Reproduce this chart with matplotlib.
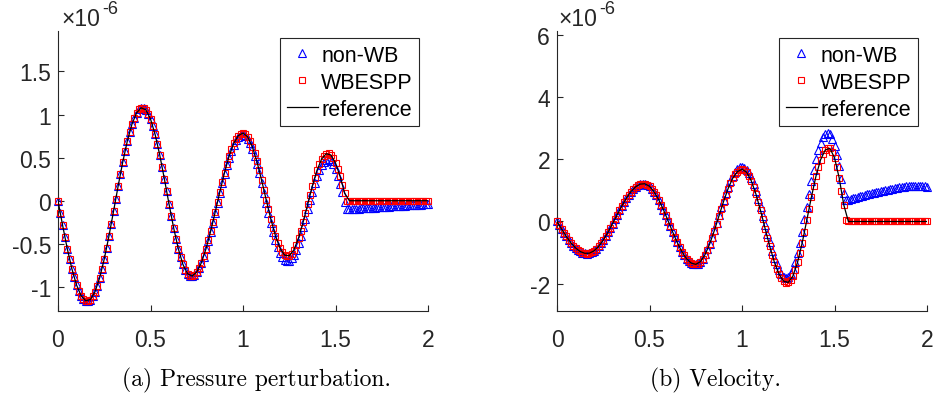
import numpy as np
import matplotlib
matplotlib.use("Agg")
import matplotlib.pyplot as plt

plt.rcParams["axes.unicode_minus"] = False

# Sample positions (numerical grid and reference grid)
x_markers = np.linspace(0.0, 2.0, 161)
x_reference = np.linspace(0.0, 2.0, 81)

# ---------------- Pressure perturbation (units of 1e-6) ----------------
pressure_wbespp = [
    0.0, -0.144, -0.287, -0.424, -0.556, -0.678, -0.790, -0.890, -0.977, -1.048, -1.103, -1.141, -1.161,
    -1.164, -1.147, -1.111, -1.057, -0.985, -0.896, -0.793, -0.677, -0.550, -0.414, -0.272, -0.125,
    0.023, 0.169, 0.312, 0.449, 0.578, 0.695, 0.800, 0.890, 0.964, 1.021, 1.059, 1.078,
    1.077, 1.055, 1.012, 0.949, 0.867, 0.769, 0.655, 0.530, 0.395, 0.253, 0.108, -0.037, -0.178,
    -0.314, -0.441, -0.555, -0.655, -0.738, -0.803, -0.847, -0.871,
    -0.874, -0.859, -0.828, -0.781, -0.720, -0.645, -0.558, -0.461, -0.356, -0.245, -0.129, -0.012,
    0.104, 0.218, 0.326, 0.427, 0.518, 0.599, 0.666, 0.719, 0.757, 0.779,
    0.785, 0.772, 0.742, 0.693, 0.628, 0.549, 0.457, 0.354, 0.244, 0.130, 0.014, -0.100, -0.210,
    -0.313, -0.405, -0.485, -0.551, -0.600, -0.632, -0.645,
    -0.639, -0.614, -0.571, -0.510, -0.435, -0.347, -0.250, -0.146, -0.039, 0.068, 0.171, 0.267,
    0.353, 0.426, 0.484, 0.524, 0.546,
    0.549, 0.531, 0.494, 0.439, 0.367, 0.282, 0.187, 0.084,
    0.0, 0.0, 0.0, 0.0, 0.0, 0.0, 0.0, 0.0, 0.0, 0.0, 0.0, 0.0,
    0.0, 0.0, 0.0, 0.0, 0.0, 0.0, 0.0, 0.0, 0.0, 0.0, 0.0, 0.0,
    0.0, 0.0, 0.0, 0.0, 0.0, 0.0, 0.0, 0.0, 0.0, 0.0, 0.0, 0.0,
]

pressure_nonwb = [
    0.0, -0.144, -0.287, -0.424, -0.556, -0.678, -0.790, -0.890, -0.977, -1.048, -1.103, -1.141, -1.161,
    -1.164, -1.147, -1.111, -1.057, -0.985, -0.896, -0.793, -0.677, -0.550, -0.414, -0.272, -0.125,
    0.023, 0.169, 0.312, 0.449, 0.578, 0.695, 0.800, 0.890, 0.964, 1.021, 1.059, 1.078,
    1.077, 1.055, 1.012, 0.949, 0.867, 0.769, 0.655, 0.530, 0.395, 0.253, 0.108, -0.037, -0.178,
    -0.314, -0.441, -0.555, -0.655, -0.738, -0.803, -0.847, -0.871,
    -0.874, -0.859, -0.829, -0.782, -0.722, -0.648, -0.562, -0.466, -0.362, -0.253, -0.138, -0.022,
    0.092, 0.205, 0.312, 0.411, 0.501, 0.581, 0.647, 0.700, 0.737, 0.759,
    0.765, 0.752, 0.720, 0.671, 0.604, 0.523, 0.429, 0.324, 0.211, 0.094, -0.024, -0.142, -0.254,
    -0.360, -0.454, -0.536, -0.603, -0.654, -0.686, -0.700,
    -0.694, -0.669, -0.626, -0.567, -0.493, -0.406, -0.310, -0.207, -0.101, 0.004, 0.106, 0.201,
    0.286, 0.358, 0.415, 0.455, 0.476,
    0.479, 0.460, 0.421, 0.363, 0.287, 0.198, 0.097, -0.011,
    -0.100, -0.098, -0.097, -0.095, -0.093, -0.091, -0.090, -0.088, -0.086, -0.085, -0.083, -0.081,
    -0.079, -0.078, -0.076, -0.074, -0.073, -0.071, -0.069, -0.067, -0.066, -0.064, -0.062, -0.061,
    -0.059, -0.057, -0.055, -0.054, -0.052, -0.050, -0.049, -0.047, -0.045, -0.043, -0.042, -0.040,
]

pressure_reference = [
    0.0, -0.287, -0.556, -0.790, -0.977, -1.103, -1.161, -1.147, -1.057, -0.896, -0.677, -0.414,
    -0.125, 0.169, 0.449, 0.695, 0.890, 1.021, 1.078, 1.055, 0.949, 0.769, 0.530, 0.253, -0.037,
    -0.314, -0.555, -0.738, -0.847, -0.874, -0.828, -0.720, -0.558, -0.356, -0.129, 0.104, 0.326,
    0.518, 0.666, 0.757, 0.785, 0.742, 0.628, 0.457, 0.244, 0.014, -0.210, -0.405, -0.551, -0.632,
    -0.639, -0.571, -0.435, -0.250, -0.039, 0.171, 0.353, 0.484, 0.546, 0.531, 0.439, 0.282, 0.084,
    0.0, 0.0, 0.0, 0.0, 0.0, 0.0, 0.0, 0.0, 0.0, 0.0, 0.0, 0.0, 0.0, 0.0, 0.0, 0.0, 0.0, 0.0,
]

# ---------------- Velocity (units of 1e-6) ----------------
velocity_wbespp = [
    0.0, -0.125, -0.247, -0.366, -0.480, -0.587, -0.685, -0.773, -0.849, -0.914, -0.964, -1.001,
    -1.023, -1.030,
    -1.020, -0.991, -0.945, -0.881, -0.801, -0.706, -0.599, -0.479, -0.350, -0.214, -0.072, 0.072,
    0.217, 0.359, 0.498, 0.629, 0.752, 0.864, 0.963, 1.048, 1.117, 1.168, 1.203, 1.219,
    1.215, 1.186, 1.132, 1.055, 0.956, 0.837, 0.699, 0.547, 0.382, 0.208, 0.029, -0.153, -0.333,
    -0.508, -0.675, -0.830, -0.971, -1.094, -1.197, -1.279, -1.337, -1.371,
    -1.379, -1.355, -1.294, -1.198, -1.069, -0.911, -0.728, -0.522, -0.301, -0.068, 0.169, 0.406,
    0.637, 0.857, 1.059, 1.239, 1.393, 1.516, 1.606, 1.661, 1.680,
    1.656, 1.585, 1.470, 1.311, 1.116, 0.888, 0.632, 0.356, 0.067, -0.227, -0.520, -0.802, -1.068,
    -1.309, -1.520, -1.696, -1.830, -1.921, -1.965,
    -1.960, -1.890, -1.757, -1.564, -1.318, -1.026, -0.697, -0.340, 0.033, 0.412, 0.784, 1.137,
    1.463, 1.750, 1.990, 2.176, 2.302, 2.363,
    2.355, 2.250, 2.052, 1.769, 1.412, 0.995, 0.538, 0.058,
    0.0, 0.0, 0.0, 0.0, 0.0, 0.0, 0.0, 0.0, 0.0, 0.0, 0.0, 0.0,
    0.0, 0.0, 0.0, 0.0, 0.0, 0.0, 0.0, 0.0, 0.0, 0.0, 0.0, 0.0,
    0.0, 0.0, 0.0, 0.0, 0.0, 0.0, 0.0, 0.0, 0.0, 0.0, 0.0,
]

velocity_nonwb = [
    0.0, -0.125, -0.247, -0.366, -0.480, -0.587, -0.685, -0.773, -0.849, -0.914, -0.964, -1.001,
    -1.023, -1.030,
    -1.020, -0.991, -0.945, -0.881, -0.801, -0.706, -0.599, -0.479, -0.350, -0.214, -0.072, 0.072,
    0.217, 0.359, 0.498, 0.629, 0.752, 0.864, 0.963, 1.048, 1.117, 1.168, 1.203, 1.219,
    1.215, 1.186, 1.132, 1.055, 0.956, 0.837, 0.699, 0.547, 0.382, 0.208, 0.029, -0.153, -0.333,
    -0.508, -0.675, -0.830, -0.971, -1.094, -1.197, -1.279, -1.337, -1.371,
    -1.379, -1.354, -1.292, -1.193, -1.061, -0.899, -0.711, -0.500, -0.273, -0.034, 0.210, 0.453,
    0.690, 0.915, 1.122, 1.307, 1.465, 1.591, 1.684, 1.741, 1.760,
    1.737, 1.667, 1.554, 1.398, 1.207, 0.983, 0.732, 0.461, 0.178, -0.111, -0.398, -0.675, -0.935,
    -1.172, -1.379, -1.551, -1.683, -1.772, -1.815,
    -1.797, -1.703, -1.539, -1.312, -1.028, -0.695, -0.325, 0.071, 0.482, 0.893, 1.293, 1.668,
    2.008, 2.300, 2.537, 2.711, 2.816, 2.850,
    2.803, 2.666, 2.442, 2.143, 1.781, 1.371, 0.931,
    0.680, 0.700, 0.720, 0.745, 0.770, 0.790, 0.815, 0.835, 0.855, 0.875, 0.895, 0.915,
    0.930, 0.950, 0.965, 0.980, 0.995, 1.010, 1.025, 1.040, 1.055, 1.070, 1.085, 1.100,
    1.110, 1.120, 1.130, 1.140, 1.145, 1.150, 1.150, 1.150, 1.145, 1.140, 1.130, 1.115,
]

velocity_reference = [
    0.0, -0.247, -0.480, -0.685, -0.849, -0.964, -1.023, -1.020, -0.945, -0.801, -0.599, -0.350,
    -0.072, 0.217, 0.498, 0.752, 0.963, 1.117, 1.203, 1.215, 1.132, 0.956, 0.699, 0.382, 0.029,
    -0.333, -0.675, -0.971, -1.197, -1.337, -1.379, -1.294, -1.069, -0.728, -0.301, 0.169, 0.637,
    1.059, 1.393, 1.606, 1.680, 1.585, 1.311, 0.888, 0.356, -0.227, -0.802, -1.309, -1.696, -1.921,
    -1.960, -1.757, -1.318, -0.697, 0.033, 0.784, 1.463, 1.990, 2.302, 2.355, 2.052, 1.412, 0.538,
    0.0, 0.0, 0.0, 0.0, 0.0, 0.0, 0.0, 0.0, 0.0, 0.0, 0.0, 0.0, 0.0, 0.0, 0.0, 0.0, 0.0, 0.0,
]

series_labels = ["non-WB", "WBESPP", "reference"]
x_ticks = [0, 0.5, 1, 1.5, 2]
x_tick_labels = ["0", "0.5", "1", "1.5", "2"]
pressure_ticks = [-1, -0.5, 0, 0.5, 1, 1.5]
pressure_tick_labels = ["-1", "-0.5", "0", "0.5", "1", "1.5"]
velocity_ticks = [-2, 0, 2, 4, 6]
velocity_tick_labels = ["-2", "0", "2", "4", "6"]
captions = ["(a) Pressure perturbation.", "(b) Velocity."]

# ---------------- Figure ----------------
W, H = 935, 402
fig = plt.figure(figsize=(W / 100, H / 100), dpi=100)
fig.patch.set_facecolor("white")

SANS = "Liberation Sans"
AXC = "#262626"


def axes_px(left, top, right, bottom):
    return fig.add_axes([left / W, 1 - bottom / H, (right - left) / W, (bottom - top) / H])


def draw_panel(ax, nonwb, wbespp, reference, yticks, yticklabels, ylim, exp_x):
    h1, = ax.plot(x_markers, nonwb, linestyle="none", marker="^", markersize=6.0,
                  markerfacecolor="none", markeredgecolor="#0000ff", markeredgewidth=0.8,
                  clip_on=False, zorder=2)
    h2, = ax.plot(x_markers, wbespp, linestyle="none", marker="s", markersize=4.2,
                  markerfacecolor="none", markeredgecolor="#ff0000", markeredgewidth=0.8,
                  clip_on=False, zorder=3)
    h3, = ax.plot(x_reference, reference, color="black", linewidth=0.9, zorder=4)

    ax.set_xlim(0, 2)
    ax.set_ylim(*ylim)
    ax.set_xticks(x_ticks)
    ax.set_xticklabels(x_tick_labels)
    ax.set_yticks(yticks)
    ax.set_yticklabels(yticklabels)
    for side in ("top", "right"):
        ax.spines[side].set_visible(False)
    for side in ("left", "bottom"):
        ax.spines[side].set_color(AXC)
        ax.spines[side].set_linewidth(0.8)
    ax.tick_params(direction="in", length=4, width=0.8, color=AXC, labelcolor=AXC,
                   labelsize=16.5)
    ax.tick_params(axis="x", pad=12)
    ax.tick_params(axis="y", pad=5)
    for lab in ax.get_xticklabels() + ax.get_yticklabels():
        lab.set_fontfamily(SANS)

    leg = ax.legend([h1, h2, h3], series_labels, loc="upper right",
                    bbox_to_anchor=(0.9765, 0.974), borderaxespad=0, numpoints=1,
                    prop={"family": SANS, "size": 15.5}, handlelength=1.45,
                    handletextpad=0.15, labelspacing=0.28, borderpad=0.3,
                    fancybox=False, framealpha=1, edgecolor=AXC)
    leg.get_frame().set_linewidth(0.8)
    for t in leg.get_texts():
        t.set_color("black")

    # exponent annotation above the y axis
    fig.text(exp_x / W, 1 - 25.5 / H, "\u00d710", fontsize=16.5, family=SANS, color=AXC,
             ha="left", va="baseline")
    fig.text((exp_x + 41) / W, 1 - 13.5 / H, "-6", fontsize=13, family=SANS, color=AXC,
             ha="left", va="baseline")


ax1 = axes_px(58, 32, 428, 312)
ax2 = axes_px(557, 32, 927, 312)

draw_panel(ax1, pressure_nonwb, pressure_wbespp, pressure_reference,
           pressure_ticks, pressure_tick_labels, (-1.28, 1.97), 61)
draw_panel(ax2, velocity_nonwb, velocity_wbespp, velocity_reference,
           velocity_ticks, velocity_tick_labels, (-2.88, 6.13), 558)

fig.text(257 / W, 1 - 380 / H, captions[0], fontname="cmr10", fontsize=17,
         ha="center", va="center", color="black")
fig.text(715 / W, 1 - 380 / H, captions[1], fontname="cmr10", fontsize=17,
         ha="center", va="center", color="black")

fig.savefig("out.png", dpi=100, facecolor="white")
